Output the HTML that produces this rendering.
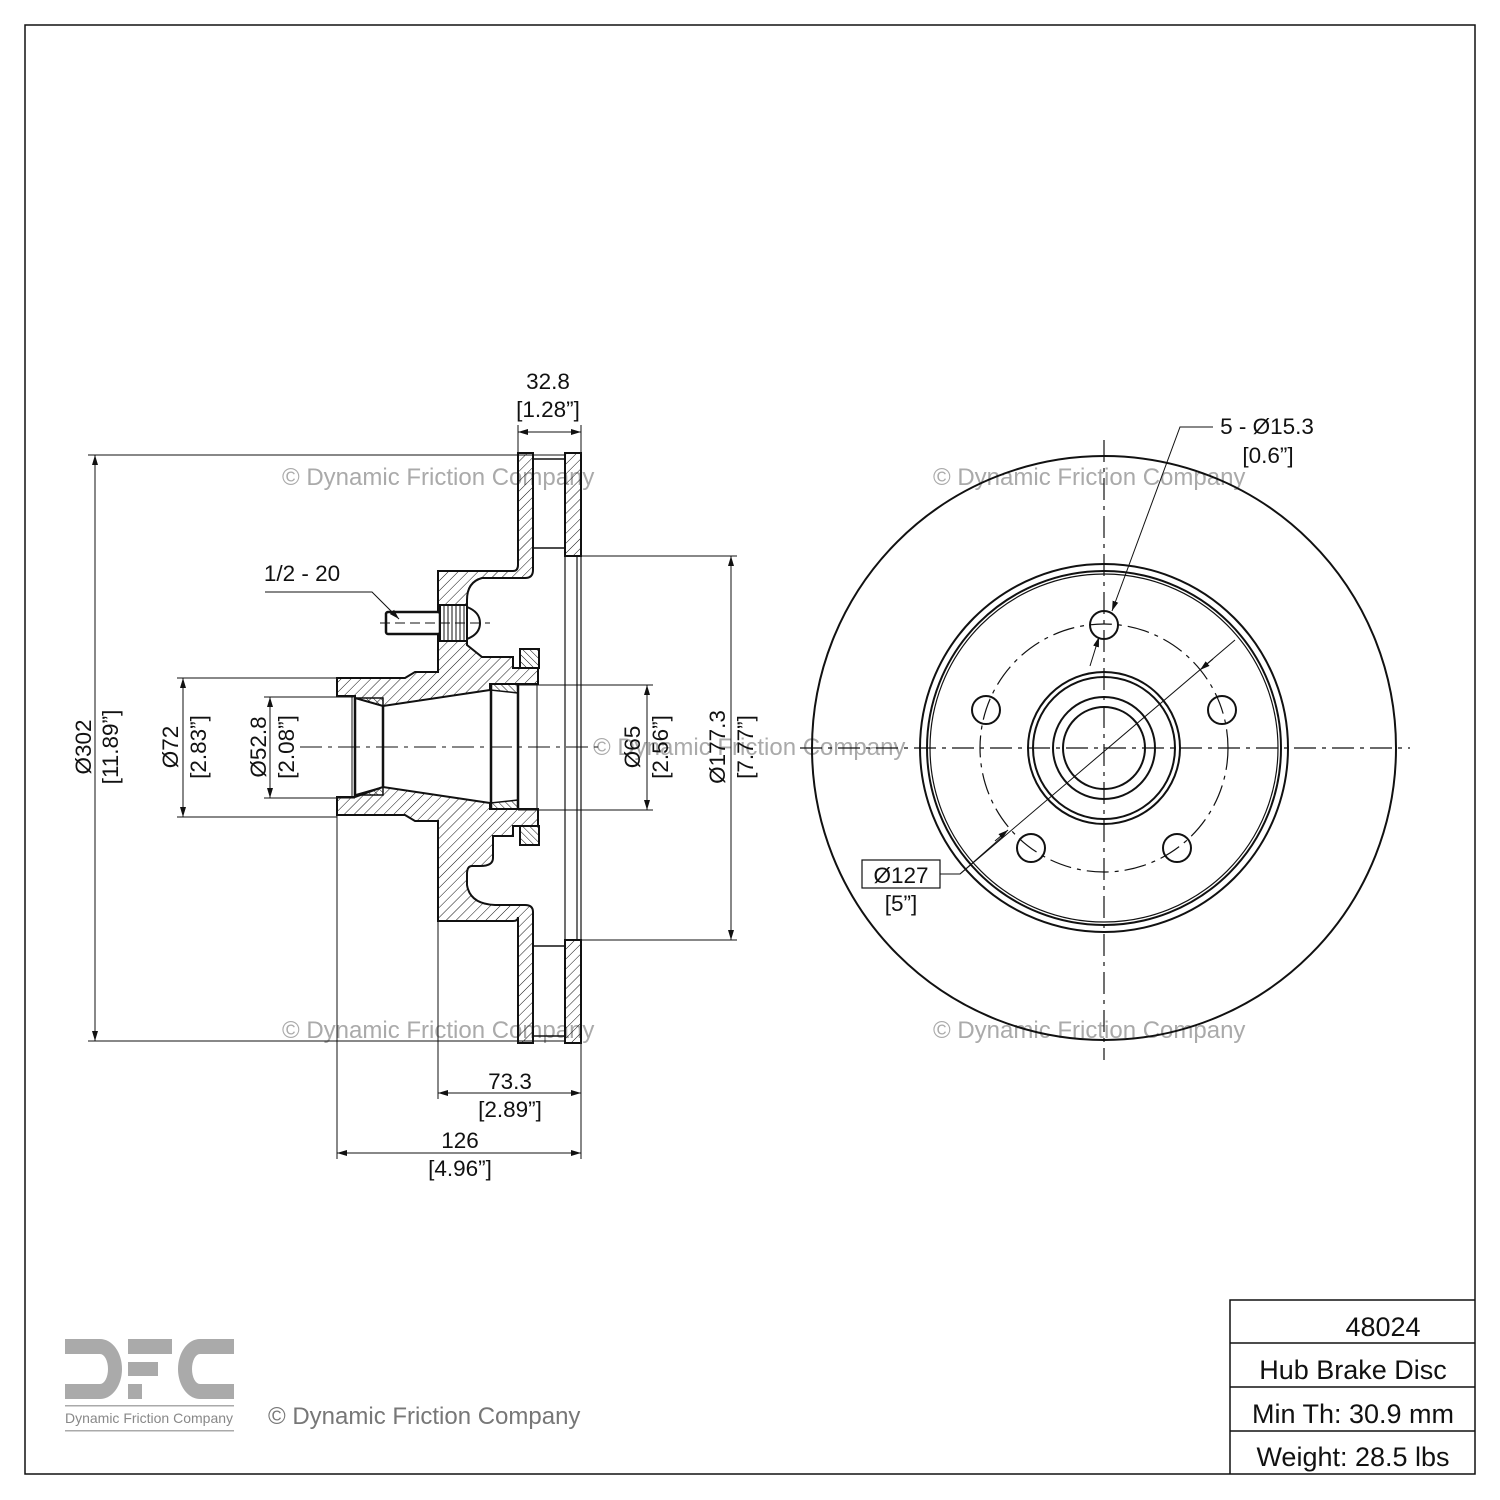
<!DOCTYPE html>
<html><head><meta charset="utf-8"><style>
html,body{margin:0;padding:0;background:#fff}
svg{display:block}
text{font-family:"Liberation Sans",sans-serif;fill:#111}
.wm{fill:#aaa;font-size:24px}
.d{font-size:22.5px}
</style></head><body>
<svg width="1500" height="1500" viewBox="0 0 1500 1500" xmlns="http://www.w3.org/2000/svg">
<defs>
<pattern id="h" patternUnits="userSpaceOnUse" width="7" height="7" patternTransform="rotate(45)">
<line x1="0" y1="0" x2="0" y2="7" stroke="#111" stroke-width="1"/></pattern>
<pattern id="h2" patternUnits="userSpaceOnUse" width="5" height="5" patternTransform="rotate(-45)">
<line x1="0" y1="0" x2="0" y2="5" stroke="#111" stroke-width="1"/></pattern>
<marker id="a" viewBox="0 0 10 10" refX="10" refY="5" markerWidth="10" markerHeight="10" orient="auto-start-reverse" markerUnits="userSpaceOnUse"><path d="M0,2 L10,5 L0,8 z" fill="#111"/></marker>
</defs>
<rect x="25" y="25" width="1450" height="1449" fill="none" stroke="#111" stroke-width="1.5"/>

<text class="wm" x="282" y="485">© Dynamic Friction Company</text>
<text class="wm" x="933" y="485">© Dynamic Friction Company</text>
<text class="wm" x="282" y="1038">© Dynamic Friction Company</text>
<text class="wm" x="933" y="1038">© Dynamic Friction Company</text>
<text class="wm" x="593" y="755">© Dynamic Friction Company</text>

<g stroke="#111" fill="none">
<path fill="url(#h)" stroke-width="2" d="M518,453 L533,453 L533,570 Q533,578 525,578 L482,578 Q467,582 467,600 L467,645 L482,657 L513,657 L513,668 L538,668 L538,684 L490,684 L490,690 L383,706 L355,698 L355,696 L337,696 L337,678 L405,678 L415,672 L438,672 L438,571 L513,571 Q518,571 518,565 Z"/>
<path fill="url(#h)" stroke-width="2" d="M337,797 L355,797 L383,787 L490,803 L490,809 L538,809 L538,826 L513,826 L513,836 L493,836 L493,858 Q493,866 480,866 L472,866 Q467,866 467,874 L467,885 Q470,904 495,905 L525,905 Q533,905 533,912 L533,1043 L518,1043 L518,917 Q518,921 513,921 L438,921 L438,821 L415,821 L405,815 L337,815 Z"/>
<rect x="565" y="453" width="16" height="103" fill="url(#h)" stroke-width="2"/>
<rect x="565" y="940" width="16" height="103" fill="url(#h)" stroke-width="2"/>
<line x1="533" y1="459" x2="565" y2="459" stroke-width="1.5"/><line x1="533" y1="548" x2="565" y2="548" stroke-width="1.5"/>
<line x1="533" y1="946" x2="565" y2="946" stroke-width="1.5"/><line x1="533" y1="1036" x2="565" y2="1036" stroke-width="1.5"/>
<line x1="565" y1="556" x2="565" y2="940" stroke-width="1.2"/><line x1="577" y1="556" x2="577" y2="940" stroke-width="1.2"/><line x1="581" y1="556" x2="581" y2="940" stroke-width="1.2"/>
<path fill="url(#h2)" stroke-width="1.5" d="M355,698 L383,698 L383,706 Z M355,795 L383,795 L383,787 Z"/>
<path fill="url(#h2)" stroke-width="1.5" d="M490,684 L518,684 L518,693 L490,690 Z M490,809 L518,809 L518,800 L490,803 Z"/>
<line x1="355" y1="698" x2="355" y2="797" stroke-width="2.5"/><line x1="352" y1="696" x2="352" y2="797" stroke-width="1"/>
<line x1="383" y1="706" x2="383" y2="787" stroke-width="2.5"/>
<line x1="491" y1="684" x2="491" y2="809" stroke-width="2.5"/>
<line x1="518" y1="684" x2="518" y2="809" stroke-width="2.5"/>
<line x1="537" y1="684" x2="537" y2="809" stroke-width="1"/>
<rect x="520" y="649" width="19" height="19" fill="url(#h2)" stroke-width="2"/>
<rect x="520" y="826" width="19" height="19" fill="url(#h2)" stroke-width="2"/>
<rect x="386" y="612" width="54" height="22" rx="2" fill="#fff" stroke-width="2.5"/>
<rect x="440" y="605" width="27" height="36" fill="#fff" stroke-width="2"/>
<path d="M444,605 V641 M448,605 V641 M452,605 V641 M456,605 V641 M460,605 V641 M464,605 V641" stroke-width="1"/>
<path d="M467,607 Q480,612 480,623 Q480,634 467,639" stroke-width="2"/>
<line x1="380" y1="623" x2="490" y2="623" stroke-dasharray="10,5" stroke-width="1"/>
<line x1="300" y1="747" x2="600" y2="747" stroke-dasharray="22,6,4,6" stroke-width="1"/>

<g stroke-width="1">
<line x1="518" y1="425" x2="518" y2="453"/><line x1="581" y1="425" x2="581" y2="453"/>
<line x1="518" y1="432" x2="581" y2="432" marker-start="url(#a)" marker-end="url(#a)"/>
<line x1="88" y1="455" x2="565" y2="455"/><line x1="88" y1="1041" x2="565" y2="1041"/>
<line x1="95" y1="455" x2="95" y2="1041" marker-start="url(#a)" marker-end="url(#a)"/>
<line x1="177" y1="678" x2="337" y2="678"/><line x1="177" y1="817" x2="337" y2="817"/>
<line x1="183" y1="678" x2="183" y2="817" marker-start="url(#a)" marker-end="url(#a)"/>
<line x1="264" y1="697" x2="355" y2="697"/><line x1="264" y1="798" x2="355" y2="798"/>
<line x1="270" y1="697" x2="270" y2="798" marker-start="url(#a)" marker-end="url(#a)"/>
<line x1="518" y1="685" x2="653" y2="685"/><line x1="518" y1="810" x2="653" y2="810"/>
<line x1="647" y1="685" x2="647" y2="810" marker-start="url(#a)" marker-end="url(#a)"/>
<line x1="581" y1="556" x2="737" y2="556"/><line x1="581" y1="940" x2="737" y2="940"/>
<line x1="731" y1="556" x2="731" y2="940" marker-start="url(#a)" marker-end="url(#a)"/>
<line x1="438" y1="921" x2="438" y2="1099"/><line x1="581" y1="1043" x2="581" y2="1159"/>
<line x1="438" y1="1093" x2="581" y2="1093" marker-start="url(#a)" marker-end="url(#a)"/>
<line x1="337" y1="815" x2="337" y2="1159"/>
<line x1="337" y1="1153" x2="581" y2="1153" marker-start="url(#a)" marker-end="url(#a)"/>
<polyline points="265,592 372,592 399,619" marker-end="url(#a)"/>
</g>

<g stroke-width="2">
<circle cx="1104" cy="748" r="292"/>
<circle cx="1104" cy="748" r="184"/>
<circle cx="1104" cy="748" r="177"/>
<circle cx="1104" cy="748" r="174" stroke-width="1.2"/>
<circle cx="1104" cy="748" r="76"/>
<circle cx="1104" cy="748" r="71"/>
<circle cx="1104" cy="748" r="51"/>
<circle cx="1104" cy="748" r="41"/>
<circle cx="1104" cy="625" r="14"/>
<circle cx="986" cy="710" r="14"/>
<circle cx="1222" cy="710" r="14"/>
<circle cx="1031" cy="848" r="14"/>
<circle cx="1177" cy="848" r="14"/>
</g>
<circle cx="1104" cy="748" r="124" stroke-width="1.2" stroke-dasharray="22,6,4,6"/>
<line x1="800" y1="748" x2="1410" y2="748" stroke-dasharray="22,6,4,6" stroke-width="1.2"/>
<line x1="1104" y1="440" x2="1104" y2="1060" stroke-dasharray="22,6,4,6" stroke-width="1.2"/>
<g stroke-width="1">
<polyline points="1213,427 1180,427 1112,611" marker-end="url(#a)"/>
<line x1="1090" y1="666" x2="1099" y2="637" marker-end="url(#a)"/>
<polyline points="940,874 960,874 1003,836" />
<line x1="960" y1="874" x2="1235" y2="640"/>
<line x1="995" y1="841" x2="1008" y2="830" marker-end="url(#a)"/>
<line x1="1213" y1="659" x2="1200" y2="670" marker-end="url(#a)"/>
<rect x="862" y="860" width="78" height="28" stroke-width="1.2"/>
</g>
<g stroke-width="1.5">
<path d="M1230,1474 V1300 H1475 M1230,1343 H1475 M1230,1387 H1475 M1230,1431 H1475"/>
</g>
</g>

<g class="d" text-anchor="middle">
<text x="548" y="389">32.8</text><text x="548" y="417">[1.28”]</text>
<text x="510" y="1089">73.3</text><text x="510" y="1117">[2.89”]</text>
<text x="460" y="1148">126</text><text x="460" y="1176">[4.96”]</text>
<text x="302" y="581">1/2 - 20</text>
<text x="901" y="883">Ø127</text><text x="901" y="911">[5”]</text>
<text x="1267" y="434">5 - Ø15.3</text><text x="1268" y="463">[0.6”]</text>
<text transform="translate(91,747) rotate(-90)">Ø302</text>
<text transform="translate(118,747) rotate(-90)">[11.89”]</text>
<text transform="translate(178,747) rotate(-90)">Ø72</text>
<text transform="translate(206,747) rotate(-90)">[2.83”]</text>
<text transform="translate(266,747) rotate(-90)">Ø52.8</text>
<text transform="translate(294,747) rotate(-90)">[2.08”]</text>
<text transform="translate(640,747) rotate(-90)">Ø65</text>
<text transform="translate(668,747) rotate(-90)">[2.56”]</text>
<text transform="translate(725,747) rotate(-90)">Ø177.3</text>
<text transform="translate(753,747) rotate(-90)">[7.77”]</text>
</g>

<g text-anchor="middle" style="font-size:27px">
<text x="1383" y="1336">48024</text>
<text x="1353" y="1379">Hub Brake Disc</text>
<text x="1353" y="1423">Min Th: 30.9 mm</text>
<text x="1353" y="1466">Weight: 28.5 lbs</text>
</g>

<g fill="#aaa">
<path d="M65,1339 H100 A22,30 0 0 1 100,1399 H65 V1384 H100 A8,15 0 0 0 100,1354 H65 Z"/>
<rect x="128" y="1339" width="44" height="15"/>
<rect x="128" y="1362" width="30" height="14"/>
<rect x="128" y="1384" width="14" height="15"/>
<path d="M234,1339 H200 A22,30 0 0 0 200,1399 H234 V1384 H200 A8,15 0 0 1 200,1354 H234 Z"/>
<rect x="65" y="1405" width="169" height="1.5"/>
<rect x="65" y="1430" width="169" height="1.5"/>
</g>
<text x="149" y="1423" text-anchor="middle" style="font-size:14px;fill:#888">Dynamic Friction Company</text>
<text x="268" y="1424" style="font-size:24px;fill:#777">© Dynamic Friction Company</text>
</svg>
</body></html>
